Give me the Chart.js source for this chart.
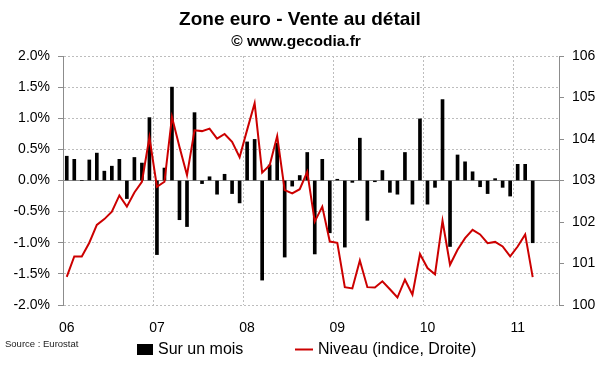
<!DOCTYPE html>
<html>
<head>
<meta charset="utf-8">
<title>Zone euro - Vente au détail</title>
<script src="https://cdn.jsdelivr.net/npm/chart.js@4"></script>
<style>
html, body { margin: 0; padding: 0; background: #fff; }
#wrap { width: 600px; height: 372px; }
</style>
</head>
<body>
<div id="wrap"><canvas id="venteChart" width="600" height="372"></canvas></div>
<script>
// Axe X : années affichées et mois
var annees = ['06', '07', '08', '09', '10', '11'];
var mois = ['janv', 'févr', 'mars', 'avr', 'mai', 'juin', 'juil', 'août', 'sept', 'oct', 'nov', 'déc'];

// Variation sur un mois, en % (janv. 2006 - mars 2011)
var surUnMois = [
    0.39, 0.34, 0.00, 0.33, 0.44, 0.15, 0.23, 0.34, -0.29, 0.37, 0.28, 1.01,
    -1.19, 0.20, 1.50, -0.63, -0.74, 1.09, -0.05, 0.06, -0.22, 0.10, -0.21, -0.36,
    0.62, 0.66, -1.60, 0.25, 0.60, -1.23, -0.09, 0.08, 0.45, -1.18, 0.34, -0.84,
    0.02, -1.07, -0.03, 0.68, -0.64, -0.02, 0.16, -0.19, -0.22, 0.45, -0.38, 0.99,
    -0.38, -0.11, 1.30, -1.06, 0.41, 0.30, 0.14, -0.10, -0.21, 0.03, -0.11, -0.25,
    0.26, 0.26, -1.00
];

// Niveau de l'indice (axe de droite)
var niveau = [
    100.68, 101.17, 101.17, 101.50, 101.93, 102.07, 102.25, 102.64, 102.37, 102.71, 102.97, 104.04,
    102.85, 102.97, 104.53, 103.81, 103.13, 104.21, 104.19, 104.25, 104.01, 104.12, 103.93, 103.56,
    104.22, 104.86, 103.19, 103.37, 104.07, 102.77, 102.69, 102.79, 103.21, 102.01, 102.37, 101.53,
    101.50, 100.43, 100.40, 101.07, 100.43, 100.42, 100.57, 100.38, 100.18, 100.61, 100.25, 101.23,
    100.89, 100.74, 102.03, 100.97, 101.33, 101.61, 101.81, 101.70, 101.49, 101.52, 101.41, 101.17,
    101.41, 101.70, 100.67
];

// Graduations des deux axes
var ticksGauche = [-2, -1.5, -1, -0.5, 0, 0.5, 1, 1.5, 2];
var ticksDroite = [100, 101, 102, 103, 104, 105, 106];

// 66 mois sur l'axe (janv. 2006 - juin 2011)
var categories = [];
annees.forEach(function(a) {
    mois.forEach(function(m) { categories.push(m + ' ' + a); });
});
categories = categories.slice(0, 66);

var police = '"Liberation Sans", Arial, sans-serif';
var gris = '#8c8c8c';
var pointille = '#bdbdbd';

// Titres, légende et source
var textesPlugin = {
    id: 'textes',
    afterDraw: function(chart) {
        var c = chart.ctx;
        c.save();
        c.fillStyle = '#000';
        c.textBaseline = 'middle';
        c.textAlign = 'center';
        c.font = 'bold 19px ' + police;
        c.fillText('Zone euro - Vente au détail', 300, 20);
        c.font = 'bold 15.5px ' + police;
        c.fillText('© www.gecodia.fr', 296, 42);

        c.textAlign = 'left';
        c.font = '16px ' + police;
        c.fillRect(137, 344, 16, 11);
        c.fillText('Sur un mois', 158, 350);
        c.strokeStyle = '#cc0000';
        c.lineWidth = 2;
        c.beginPath();
        c.moveTo(295, 349.5);
        c.lineTo(313, 349.5);
        c.stroke();
        c.fillText('Niveau (indice, Droite)', 318, 350);

        c.fillStyle = '#222';
        c.font = '9.5px ' + police;
        c.fillText('Source : Eurostat', 5, 344);
        c.restore();
    }
};

var ctx = document.getElementById('venteChart').getContext('2d');
var venteChart = new Chart(ctx, {
    type: 'bar',
    data: {
        labels: categories,
        datasets: [{
            type: 'line',
            label: 'Niveau (indice, Droite)',
            data: niveau,
            yAxisID: 'y1',
            borderColor: '#cc0000',
            borderWidth: 2,
            pointRadius: 0,
            tension: 0,
            fill: false,
            order: 0
        }, {
            type: 'bar',
            label: 'Sur un mois',
            data: surUnMois,
            yAxisID: 'y',
            backgroundColor: '#000',
            barThickness: 3,
            order: 1
        }]
    },
    options: {
        responsive: false,
        animation: false,
        layout: { padding: { top: 56, left: 0, right: 0, bottom: 0 } },
        plugins: {
            legend: { display: false },
            title: { display: false },
            tooltip: { enabled: false }
        },
        scales: {
            x: {
                type: 'category',
                offset: true,
                grid: {
                    offset: true,
                    drawTicks: false,
                    color: function(c) {
                        return (c.index > 0 && c.index % 12 === 0) ? pointille : 'rgba(0,0,0,0)';
                    }
                },
                border: { display: false, dash: [2, 2] },
                ticks: {
                    autoSkip: false,
                    maxRotation: 0,
                    padding: 15,
                    color: '#000',
                    font: { family: police, size: 14 },
                    callback: function(v, i) {
                        return i % 12 === 0 ? annees[i / 12] : '';
                    }
                },
                afterFit: function(s) { s.height = 67; }
            },
            y: {
                position: 'left',
                min: -2,
                max: 2,
                afterBuildTicks: function(s) {
                    s.ticks = ticksGauche.map(function(v) { return { value: v }; });
                },
                grid: {
                    color: function(c) {
                        return (c.tick && c.tick.value === 0) ? gris : pointille;
                    },
                    tickColor: gris,
                    tickLength: 5,
                    tickBorderDash: []
                },
                border: {
                    color: gris,
                    dash: function(c) {
                        return (c.tick && c.tick.value === 0) ? [] : [2, 2];
                    }
                },
                ticks: {
                    padding: 8,
                    color: '#000',
                    font: { family: police, size: 14 },
                    callback: function(v) { return v.toFixed(1) + '%'; }
                },
                afterFit: function(s) { s.width = 63; }
            },
            y1: {
                position: 'right',
                min: 100,
                max: 106,
                afterBuildTicks: function(s) {
                    s.ticks = ticksDroite.map(function(v) { return { value: v }; });
                },
                grid: {
                    drawOnChartArea: false,
                    tickColor: gris,
                    tickLength: 5
                },
                border: { color: gris },
                ticks: {
                    padding: 8,
                    color: '#000',
                    font: { family: police, size: 14 }
                },
                afterFit: function(s) { s.width = 41; }
            }
        }
    },
    plugins: [textesPlugin]
});
</script>
</body>
</html>
